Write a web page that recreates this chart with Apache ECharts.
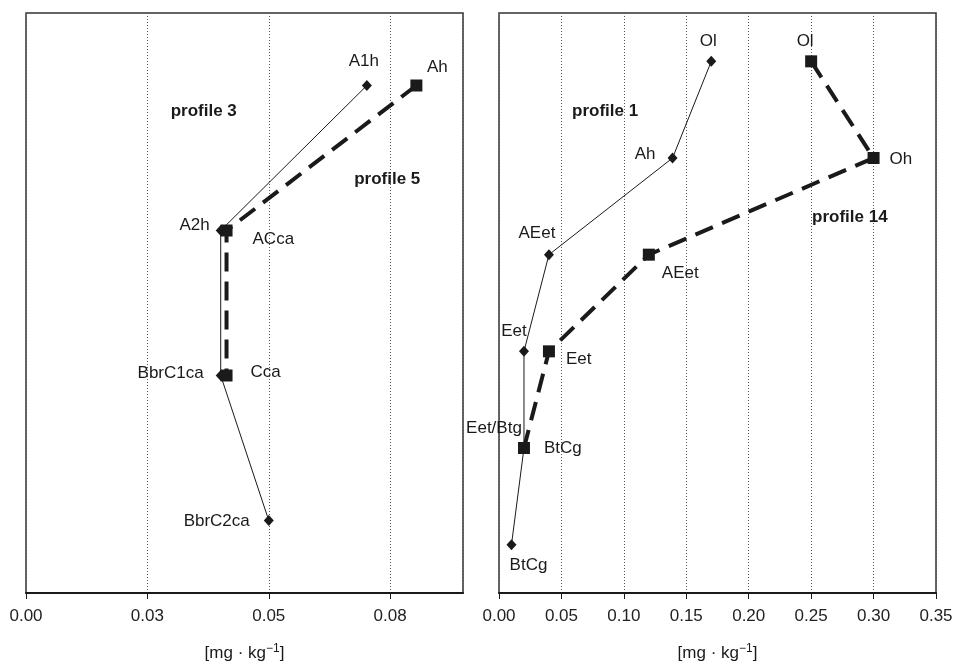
<!DOCTYPE html>
<html>
<head>
<meta charset="utf-8">
<title>Soil profiles</title>
<script src="https://cdn.jsdelivr.net/npm/echarts@6/dist/echarts.min.js"></script>
<style>
  html, body { margin: 0; background: #fff; }
  #chart { width: 957px; height: 662px; }
</style>
</head>
<body>
<div id="chart"></div>
<script>
// left panel: profile 3 (diamonds) and profile 5 (squares)
var horizons3 = ['A1h', 'A2h', 'BbrC1ca', 'BbrC2ca'];
var values3 = [0.0702, 0.0401, 0.0401, 0.0500];
var horizons5 = ['Ah', 'ACca', 'Cca'];
var values5 = [0.0804, 0.0413, 0.0413];

// right panel: profile 1 (diamonds) and profile 14 (squares)
var horizons1 = ['Ol', 'Ah', 'AEet', 'Eet', 'Eet/Btg', 'BtCg'];
var values1 = [0.170, 0.139, 0.040, 0.020, 0.020, 0.010];
var horizons14 = ['Ol', 'Oh', 'AEet', 'Eet', 'BtCg'];
var values14 = [0.250, 0.300, 0.120, 0.040, 0.020];

var ticksLeft = [0, 0.025, 0.05, 0.075];
var ticksRight = [0, 0.05, 0.10, 0.15, 0.20, 0.25, 0.30, 0.35];

// where each horizon label sits: [position, distance, offset]
var place3 = [['top', 10, [-3, 0]], ['left', 6, [0, -5]], ['left', 12, [0, -2]], ['left', 14, [0, 1]]];
var place5 = [['top', 4, [21, 0]], ['right', 20, [0, 9]], ['right', 18, [0, -3]]];
var place1 = [['top', 6, [-3, 0]], ['left', 12, [0, -4]], ['top', 7, [-12, 0]], ['top', 6, [-10, 0]], ['top', 6, [-30, 0]], ['bottom', 7, [17, 0]]];
var place14 = [['top', 6, [-6, 0]], ['right', 10, [0, 1]], ['right', 7, [0, 19]], ['right', 11, [0, 8]], ['right', 14, [0, 0]]];

// profile captions in data coordinates [text, x, depth level]
var notesLeft = [['profile 3', 0.0366, 1.18], ['profile 5', 0.0744, 1.65]];
var notesRight = [['profile 1', 0.085, 1.52], ['profile 14', 0.281, 2.61]];

var FONT = '"Liberation Sans", Arial, sans-serif';
var INK = '#1a1a1a';

function points(names, vals, place) {
  return vals.map(function (v, i) {
    return {
      value: [v, i + 1],
      name: names[i],
      label: { position: place[i][0], distance: place[i][1], offset: place[i][2] }
    };
  });
}

function profileSeries(idx, names, vals, place, square) {
  return {
    type: 'line',
    xAxisIndex: idx,
    yAxisIndex: idx,
    data: points(names, vals, place),
    symbol: square ? 'rect' : 'diamond',
    symbolSize: square ? 12 : [10, 11],
    showAllSymbol: true,
    z: square ? 4 : 3,
    itemStyle: { color: INK, opacity: 1 },
    lineStyle: square
      ? { color: INK, width: 4, type: [19, 10] }
      : { color: INK, width: 1 },
    label: {
      show: true,
      formatter: '{b}',
      color: INK,
      fontFamily: FONT,
      fontSize: 17
    },
    emphasis: { disabled: true },
    animation: false
  };
}

function noteSeries(idx, notes) {
  return {
    type: 'scatter',
    xAxisIndex: idx,
    yAxisIndex: idx,
    symbolSize: 0,
    silent: true,
    itemStyle: { color: INK, opacity: 1 },
    data: notes.map(function (n) { return { value: [n[1], n[2]], name: n[0] }; }),
    label: {
      show: true,
      position: 'inside',
      formatter: '{b}',
      color: INK,
      opacity: 1,
      textBorderWidth: 0,
      fontFamily: FONT,
      fontSize: 17,
      fontWeight: 'bold'
    },
    animation: false
  };
}

function xAxis(idx, ticks, max) {
  return {
    type: 'value',
    gridIndex: idx,
    min: ticks[0],
    max: max,
    interval: ticks[1] - ticks[0],
    name: '{n|[mg · kg}{s|−1}{n|]}',
    nameLocation: 'middle',
    nameGap: 50,
    nameTextStyle: {
      color: INK,
      fontFamily: FONT,
      fontSize: 17,
      rich: {
        n: { fontSize: 17, fontFamily: FONT, color: INK },
        s: { fontSize: 12, fontFamily: FONT, color: INK, padding: [0, 0, 8, 0] }
      }
    },
    axisLine: { show: true, lineStyle: { color: INK, width: 2 } },
    axisTick: { show: true, inside: false, length: 6, lineStyle: { color: INK, width: 1 } },
    axisLabel: {
      margin: 15,
      color: '#222',
      fontFamily: FONT,
      fontSize: 17,
      showMaxLabel: max === ticks[ticks.length - 1],
      formatter: function (v) { return (v + 1e-9).toFixed(2); }
    },
    splitLine: { show: true, lineStyle: { color: '#555', width: 1, type: [1, 2] } }
  };
}

function yAxis(idx, n) {
  return {
    type: 'value',
    gridIndex: idx,
    inverse: true,
    min: 0.5,
    max: n + 0.5,
    show: false,
    splitLine: { show: false }
  };
}

var chart = echarts.init(document.getElementById('chart'), null, { renderer: 'canvas' });
chart.setOption({
  backgroundColor: '#fff',
  animation: false,
  grid: [
    { left: 26, right: 494, top: 13, bottom: 69, show: true, borderColor: '#333', borderWidth: 1.5, containLabel: false, outerBoundsMode: 'none' },
    { left: 499, right: 21, top: 13, bottom: 69, show: true, borderColor: '#333', borderWidth: 1.5, containLabel: false, outerBoundsMode: 'none' }
  ],
  xAxis: [xAxis(0, ticksLeft, 0.09), xAxis(1, ticksRight, 0.35)],
  yAxis: [yAxis(0, horizons3.length), yAxis(1, horizons1.length)],
  series: [
    profileSeries(0, horizons3, values3, place3, false),
    profileSeries(0, horizons5, values5, place5, true),
    profileSeries(1, horizons1, values1, place1, false),
    profileSeries(1, horizons14, values14, place14, true),
    noteSeries(0, notesLeft),
    noteSeries(1, notesRight)
  ]
});
</script>
</body>
</html>
